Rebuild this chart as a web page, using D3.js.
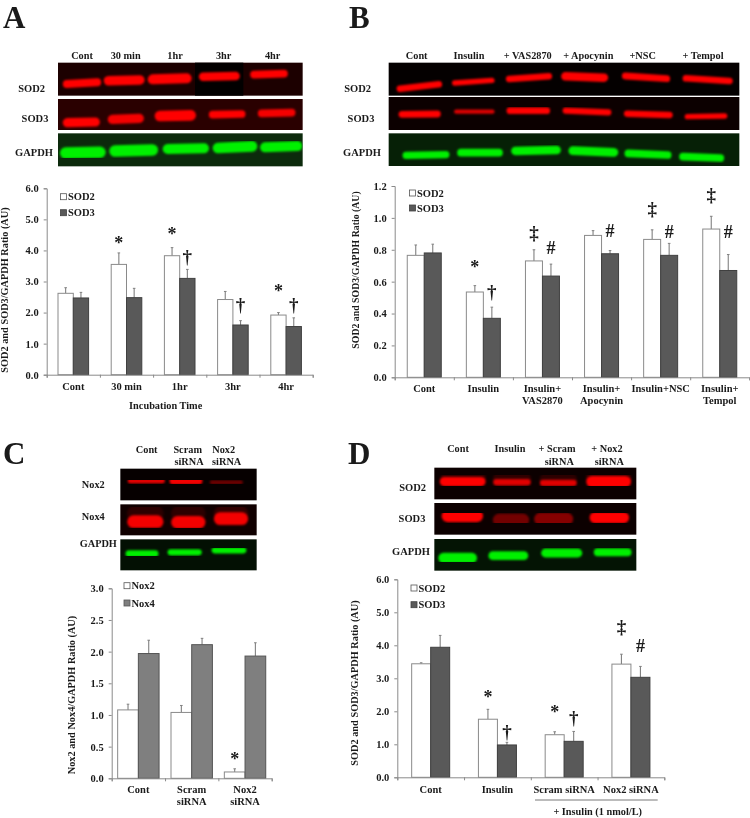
<!DOCTYPE html>
<html><head><meta charset="utf-8">
<script src="https://cdnjs.cloudflare.com/ajax/libs/d3/7.8.5/d3.min.js"></script>
<style>
html,body{margin:0;padding:0;background:#fff}
svg{display:block;filter:blur(0.4px)}
text{font-family:"Liberation Serif","Times New Roman",serif;font-weight:bold;fill:#1a1a1a}
</style></head><body><svg id="c" width="750" height="818"></svg>
<script>
// ---------- chart values ----------
const catsA = ["Cont","30 min","1hr","3hr","4hr"];
const sod2A = [2.62,3.55,3.83,2.42,1.92];
const sod2AErr = [2.80,3.92,4.09,2.68,2.00];
const sod3A = [2.47,2.48,3.10,1.60,1.55];
const sod3AErr = [2.65,2.78,3.39,1.74,1.83];
const marksA = [[1,0,"*",4.31],[2,0,"*",4.60],[2,1,"†",3.77],[3,1,"†",2.22],[4,0,"*",2.78],[4,1,"†",2.22]];

const catsB = [["Cont"],["Insulin"],["Insulin+","VAS2870"],["Insulin+","Apocynin"],["Insulin+NSC"],["Insulin+","Tempol"]];
const sod2B = [.765,.535,.73,.89,.865,.93];
const sod2BErr = [.83,.575,.80,.92,.925,1.01];
const sod3B = [.78,.37,.635,.775,.765,.67];
const sod3BErr = [.835,.44,.71,.795,.84,.77];
const marksB = [[1,0,"*",.71],[1,1,"†",.527],[2,0,"‡",.897],[2,1,"#",.81],[3,1,"#",.918],[4,0,"‡",1.05],[4,1,"#",.91],[5,0,"‡",1.134],[5,1,"#",.91]];

const catsC = [["Cont"],["Scram","siRNA"],["Nox2","siRNA"]];
const nox2C = [1.08,1.04,0.10];
const nox2CErr = [1.17,1.15,0.15];
const nox4C = [1.97,2.11,1.93];
const nox4CErr = [2.18,2.21,2.14];
const marksC = [[2,0,"*",.337]];

const catsD = ["Cont","Insulin","Scram siRNA","Nox2 siRNA"];
const sod2D = [3.44,1.76,1.29,3.43];
const sod2DErr = [3.47,2.06,1.38,3.73];
const sod3D = [3.94,.98,1.09,3.03];
const sod3DErr = [4.30,1.06,1.39,3.36];
const marksD = [[1,0,"*",2.495],[1,1,"†",1.35],[2,0,"*",2.04],[2,1,"†",1.76],[3,0,"‡",4.515],[3,1,"#",3.97]];

const ticks06 = [0,1,2,3,4,5,6];
const ticks12 = [0,.2,.4,.6,.8,1,1.2];
const ticks3 = [0,.5,1,1.5,2,2.5,3];

// Gel bands: start, end, left level, right level, thickness, strength
const bandsA1 = [[190,302,252,247,21,1],[313,432,242,240,25,1],[445,573,238,235,26,1],[598,718,230,228,22,1],[752,862,224,221,20,1]];
const bandsA2 = [[190,298,368,366,24,1],[325,430,358,355,24,.95],[466,586,348,346,28,1],[628,735,344,342,20,1],[775,885,340,338,20,.95]];
const bandsA3 = [[182,315,459,457,30,1],[330,472,453,450,30,1],[490,625,447,445,26,1],[640,770,444,439,28,1],[782,905,442,438,26,1]];
const bandsB1 = [[66,200,266,253,17,1],[232,358,249,241,14,1],[394,530,237,229,17,1],[560,698,229,233,22,1],[742,884,228,236,18,1],[924,1072,235,243,17,1]];
const bandsB2 = [[72,196,343,342,18,1],[238,358,335,335,11,.85],[396,524,332,332,18,1],[564,708,332,337,16,1],[748,892,341,345,17,1],[930,1056,350,348,14,1]];
const bandsB3 = [[84,222,466,464,19,1],[248,382,458,458,20,1],[410,556,453,450,22,1],[582,728,452,457,23,1],[750,888,460,465,20,1],[914,1046,470,474,20,1]];
const bandsC1 = [[384,494,153,153,13,.9],[510,606,153,153,19,.95],[630,728,157,157,11,.42]];
const bandsC2 = [[384,488,250,250,40,.12],[516,614,250,250,40,.12],[644,742,250,250,40,.14],[384,488,275,275,33,.95],[516,614,277,277,33,.95],[644,742,266,266,33,.95]];
const bandsC3 = [[378,474,371,371,18,1],[504,604,367,367,16,1],[636,738,361,361,16,1]];
const bandsD1 = [[200,330,145,145,44,.15],[356,466,148,148,40,.15],[496,604,150,150,38,.13],[636,766,145,145,46,.17],[196,330,155,155,25,1],[356,466,157,157,17,.85],[496,604,159,159,17,.85],[636,766,155,155,30,1]];
const bandsD2 = [[202,322,258,258,32,1],[356,460,270,270,34,.42],[480,592,267,267,34,.5],[646,760,263,263,30,1]];
const bandsD3 = [[192,304,384,384,27,1],[342,458,377,377,23,1],[500,620,369,369,23,1],[658,768,367,367,21,1]];
const blockA1 = [585,188,730,287];

// ---------- helpers ----------
const svg = d3.select("#c");
const defs = svg.append("defs");
defs.append("filter").attr("id","soft").attr("x","-20%").attr("y","-60%").attr("width","140%").attr("height","220%")
  .append("feGaussianBlur").attr("stdDeviation",0.8);

function label(x,y,t,size=10.5,anchor="middle"){
  return svg.append("text").attr("x",x).attr("y",y).attr("text-anchor",anchor).attr("font-size",size).text(t);
}

function lane(ox,oy,rect,bg,color,bands,block){
  // image-unit scales: the reference was measured at three units per pixel
  const sx = d3.scaleLinear([0,1125],[ox,ox+375]);
  const sy = d3.scaleLinear([0,600],[oy,oy+200]);
  const g = svg.append("g");
  const box = (r,s)=>s.attr("x",sx(r[0])).attr("y",sy(r[1])).attr("width",sx(r[2])-sx(r[0])).attr("height",sy(r[3])-sy(r[1]));
  box(rect,g.append("rect")).attr("fill",bg);
  if(block) box(block,g.append("rect")).attr("fill","#020000");
  const clip = "cl"+Math.round(sx(rect[0]))+"_"+Math.round(sy(rect[1]));
  box(rect,defs.append("clipPath").attr("id",clip).append("rect"));
  const inner = g.append("g").attr("clip-path",`url(#${clip})`).append("g").attr("filter","url(#soft)");
  inner.selectAll("line").data(bands).join("line")
    .attr("x1",d=>sx(d[0]+d[4]*.5)).attr("x2",d=>sx(d[1]-d[4]*.5))
    .attr("y1",d=>sy(d[2])).attr("y2",d=>sy(d[3]))
    .attr("stroke",color).attr("stroke-width",d=>d[4]*1.15/3).attr("stroke-linecap","round").attr("stroke-opacity",d=>d[5]);
  return g;
}

function chart(o){
  const n = o.n;
  const x = d3.scaleBand().domain(d3.range(n)).range([o.x0,o.x1]);
  const y = d3.scaleLinear().domain([0,o.max]).range([o.y0,o.y1]);
  const xEdge = d3.scaleLinear().domain([0,n]).range([o.x0,o.x1]);
  const bw = o.barW;
  const cx = i => x(i)+x.bandwidth()/2;
  const g = svg.append("g");

  // error bars
  [[o.errA,o.a,0],[o.errB,o.b,1]].forEach(([err,val,s])=>{
    const eg = g.append("g");
    eg.selectAll("line.v").data(err).join("line").attr("class","v")
      .attr("x1",(d,i)=>cx(i)+(s?bw/2:-bw/2)).attr("x2",(d,i)=>cx(i)+(s?bw/2:-bw/2))
      .attr("y1",(d,i)=>y(val[i])).attr("y2",d=>y(d)).attr("stroke","#808080").attr("stroke-width",1.1);
    eg.selectAll("line.c").data(err).join("line").attr("class","c")
      .attr("x1",(d,i)=>cx(i)+(s?bw/2:-bw/2)-1.3).attr("x2",(d,i)=>cx(i)+(s?bw/2:-bw/2)+1.3)
      .attr("y1",d=>y(d)).attr("y2",d=>y(d)).attr("stroke","#808080").attr("stroke-width",1);
  });
  // bars
  g.selectAll("rect.a").data(o.a).join("rect").attr("class","a")
    .attr("x",(d,i)=>cx(i)-bw).attr("width",bw).attr("y",d=>y(d)).attr("height",d=>o.y0-y(d))
    .attr("fill","#fff").attr("stroke","#8a8a8a").attr("stroke-width",1);
  g.selectAll("rect.b").data(o.b).join("rect").attr("class","b")
    .attr("x",(d,i)=>cx(i)).attr("width",bw).attr("y",d=>y(d)).attr("height",d=>o.y0-y(d))
    .attr("fill",o.dark).attr("stroke",o.darkStroke).attr("stroke-width",1);

  // axes
  const ay = g.append("g").attr("transform",`translate(${o.x0},0)`)
    .call(d3.axisLeft(y).tickValues(o.ticks).tickFormat(d3.format(".1f")).tickSize(3).tickPadding(5));
  ay.selectAll("text").attr("font-size",10.5).style("fill","#1a1a1a");
  const ax = g.append("g").attr("transform",`translate(0,${o.y0})`)
    .call(d3.axisBottom(xEdge).tickValues(d3.range(n+1)).tickFormat("").tickSize(3));
  g.selectAll(".domain").attr("stroke","#8a8a8a");
  g.selectAll(".tick line").attr("stroke","#8a8a8a");
  ay.attr("font-family",null); ax.attr("font-family",null);

  // category labels
  o.cats.forEach((c,i)=>{
    [].concat(c).forEach((t,j)=>label(cx(i),o.catY+j*12,t,o.catSize||10.5));
  });
  // significance marks
  const sizes = {"*":18,"†":19,"‡":19,"#":18};
  const shift = {"*":.47,"†":.26,"‡":.26,"#":.33};
  o.marks.forEach(([i,s,t,v])=>{
    const mx = cx(i)+(s?bw/2:-bw/2);
    svg.append("text").attr("x",mx).attr("y",y(v)+sizes[t]*shift[t]).attr("text-anchor","middle")
      .attr("font-size",sizes[t]).style("font-weight","bold").text(t);
  });
  // y label
  svg.append("text").attr("transform",`translate(${o.yLabX},${o.yLabY}) rotate(-90)`).attr("text-anchor","middle")
    .attr("dominant-baseline","central").attr("font-size",o.yLabSize).text(o.yLab);
  // legend
  o.legend.forEach((l,i)=>{
    const ly = o.legY[i];
    svg.append("rect").attr("x",o.legX).attr("y",ly-3).attr("width",6).attr("height",6)
      .attr("fill",i?o.dark:"#fff").attr("stroke",i?o.darkStroke:"#555").attr("stroke-width",.8);
    label(o.legX+7.5,ly+3.6,l,10.5,"start");
  });
}

// ---------- panel letters ----------
label(3,27.8,"A",31,"start");
label(349,27.8,"B",31,"start");
label(3,464,"C",31,"start");
label(348,464,"D",31,"start");

// ---------- panel A ----------
lane(0,0,[174,188,908,287],"#1c0000","#ff0000",bandsA1,blockA1);
lane(0,0,[174,297,908,390],"#2a0000","#ff0000",bandsA2);
lane(0,0,[174,400,908,499],"#0c2a0c","#00f000",bandsA3);
[["Cont",82],["30 min",125.7],["1hr",175],["3hr",223.7],["4hr",272.7]].forEach(d=>label(d[1],59,d[0],10.3));
label(31.7,91.7,"SOD2");label(35,122.3,"SOD3");label(34,155.7,"GAPDH");
chart({n:5,x0:46.7,x1:312.7,y0:374.7,y1:188.3,max:6,barW:15.3,a:sod2A,errA:sod2AErr,b:sod3A,errB:sod3AErr,
  cats:catsA,catY:389.5,marks:marksA,ticks:ticks06,dark:"#595959",darkStroke:"#404040",
  yLab:"SOD2 and SOD3/GAPDH Ratio (AU)",yLabX:4.5,yLabY:290,yLabSize:10.3,
  legend:["SOD2","SOD3"],legX:60.5,legY:[196.7,212.7]});
label(165.7,409,"Incubation Time",10.3);

// ---------- panel B ----------
lane(375,0,[41,188,1093,287],"#040000","#ff0000",bandsB1);
lane(375,0,[41,291,1093,390],"#0c0000","#ff0000",bandsB2);
lane(375,0,[41,400,1093,498],"#062006","#00f000",bandsB3);
[["Cont",416.7],["Insulin",469],["+ VAS2870",527.7],["+ Apocynin",588.3],["+NSC",642.7],["+ Tempol",703]].forEach(d=>label(d[1],59,d[0],10.3));
label(357.7,91.7,"SOD2");label(361,122,"SOD3");label(362,155.7,"GAPDH");
chart({n:6,x0:394.7,x1:749.3,y0:377.3,y1:186,max:1.2,barW:17,a:sod2B,errA:sod2BErr,b:sod3B,errB:sod3BErr,
  cats:catsB,catY:392,marks:marksB,ticks:ticks12,dark:"#595959",darkStroke:"#404040",
  yLab:"SOD2 and SOD3/GAPDH Ratio (AU)",yLabX:355,yLabY:270,yLabSize:9.8,
  legend:["SOD2","SOD3"],legX:409.5,legY:[193,208]});

// ---------- panel C ----------
lane(0,430,[361,116,770,211],"#060000","#ff0000",bandsC1);
lane(0,430,[361,223,770,316],"#100000","#ff0000",bandsC2);
lane(0,430,[361,328,770,421],"#031003","#00f000",bandsC3);
label(146.7,453,"Cont",10.3);label(187.7,453,"Scram",10.3);label(189,465,"siRNA",10.3);label(223.7,453,"Nox2",10.3);label(226.7,465,"siRNA",10.3);
label(93.3,488.3,"Nox2",10.3);label(93.3,520,"Nox4",10.3);label(98.3,546.7,"GAPDH",10.3);
chart({n:3,x0:111.7,x1:271.7,y0:778.3,y1:588.3,max:3,barW:20.7,a:nox2C,errA:nox2CErr,b:nox4C,errB:nox4CErr,
  cats:catsC,catY:793,marks:marksC,ticks:ticks3,dark:"#7f7f7f",darkStroke:"#555",
  yLab:"Nox2 and Nox4/GAPDH Ratio (AU)",yLabX:71.7,yLabY:695,yLabSize:10.3,
  legend:["Nox2","Nox4"],legX:124,legY:[585.7,603]});

// ---------- panel D ----------
lane(375,430,[178,113,784,208],"#0c0000","#ff0000",bandsD1);
lane(375,430,[178,219,784,314],"#0c0000","#ff0000",bandsD2);
lane(375,430,[178,327,784,422],"#041404","#00f000",bandsD3);
label(458,452,"Cont",10.3);label(510,452,"Insulin",10.3);label(557,452,"+ Scram",10.3);label(559.3,464.7,"siRNA",10.3);label(607,452,"+ Nox2",10.3);label(609.3,464.7,"siRNA",10.3);
label(412.7,491,"SOD2");label(412,521.7,"SOD3");label(411,555,"GAPDH");
chart({n:4,x0:397.3,x1:664.3,y0:777.3,y1:579.3,max:6,barW:19,a:sod2D,errA:sod2DErr,b:sod3D,errB:sod3DErr,
  cats:catsD,catY:792.7,marks:marksD,ticks:ticks06,dark:"#595959",darkStroke:"#404040",
  yLab:"SOD2 and SOD3/GAPDH Ratio (AU)",yLabX:354,yLabY:683,yLabSize:10.3,
  legend:["SOD2","SOD3"],legX:411,legY:[588,604.7]});
svg.append("line").attr("x1",535).attr("x2",657.7).attr("y1",800).attr("y2",800).attr("stroke","#555").attr("stroke-width",.8);
label(597.7,815,"+ Insulin (1 nmol/L)",10.3);
</script></body></html>
